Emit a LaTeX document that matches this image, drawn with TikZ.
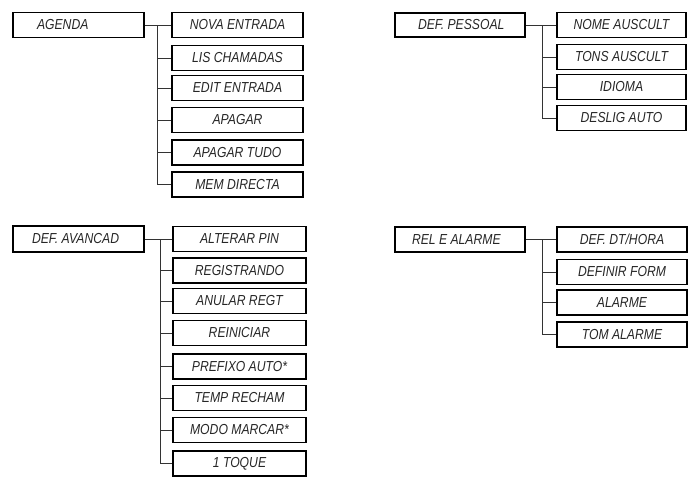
\documentclass[tikz,border=0pt]{standalone}
\usepackage{fontspec}
\newfontfamily\lcd[FakeStretch=0.84]{Liberation Sans}
\begin{document}
\begin{tikzpicture}[x=1pt,y=-1pt,
  box/.style={draw=black,line width=1.3pt,minimum height=25pt,inner sep=0pt,
    font=\lcd\itshape\fontsize{14.5}{15}\selectfont,text=black!85},
  rootbox/.style={box,minimum width=131pt},
  kid/.style={box,minimum width=131pt},
  conn/.style={draw=black!80,line width=1pt}]
\useasboundingbox (0,0) rectangle (691,485);
% AGENDA
\node[rootbox] (a0) at (78.5,25) {};
\node[anchor=west,box,draw=none] (a0t) at (a0.west) {\hspace{24pt}AGENDA};
\node[kid] (a1) at (237.5,25) {NOVA ENTRADA};
\node[kid] (a2) at (237.5,58) {LIS CHAMADAS};
\node[kid] (a3) at (237.5,88) {EDIT ENTRADA};
\node[kid] (a4) at (237.5,120) {APAGAR};
\node[kid] (a5) at (237.5,152.5) {APAGAR TUDO};
\node[kid] (a6) at (237.5,184.5) {MEM DIRECTA};
\coordinate (ta) at (157,25);
\draw[conn] (a0.east) -- (a1.west);
\draw[conn] (ta) |- (a6.west);
\foreach \k in {a2,a3,a4,a5} \draw[conn] (ta |- \k.west) -- (\k.west);
% DEF. PESSOAL
\node[rootbox,minimum width=130pt,minimum height=24pt] (p0) at (460,25) {};
\node[anchor=west,box,draw=none] (p0t) at (p0.west) {\hspace{23pt}DEF. PESSOAL};
\node[kid,minimum width=129pt] (p1) at (621.5,25) {NOME AUSCULT};
\node[kid,minimum width=129pt] (p2) at (621.5,57) {TONS AUSCULT};
\node[kid,minimum width=129pt] (p3) at (621.5,87) {IDIOMA};
\node[kid,minimum width=129pt] (p4) at (621.5,118) {DESLIG AUTO};
\coordinate (tp) at (542,25);
\draw[conn] (p0.east) -- (p1.west);
\draw[conn] (tp) |- (p4.west);
\foreach \k in {p2,p3} \draw[conn] (tp |- \k.west) -- (\k.west);
% DEF. AVANCAD
\node[rootbox,minimum height=26pt] (v0) at (78.5,239) {};
\node[anchor=west,box,draw=none] (v0t) at (v0.west) {\hspace{19pt}DEF. AVANCAD};
\node[kid,minimum width=133pt] (v1) at (239.5,239) {ALTERAR PIN};
\node[kid,minimum width=133pt] (v2) at (239.5,270.5) {REGISTRANDO};
\node[kid,minimum width=133pt] (v3) at (239.5,301) {ANULAR REGT};
\node[kid,minimum width=133pt] (v4) at (239.5,333) {REINICIAR};
\node[kid,minimum width=133pt] (v5) at (239.5,366.5) {PREFIXO AUTO*};
\node[kid,minimum width=133pt] (v6) at (239.5,398) {TEMP RECHAM};
\node[kid,minimum width=133pt] (v7) at (239.5,430) {MODO MARCAR*};
\node[kid,minimum width=133pt] (v8) at (239.5,463.5) {1 TOQUE};
\coordinate (tv) at (160,239);
\draw[conn] (v0.east) -- (v1.west);
\draw[conn] (tv) |- (v8.west);
\foreach \k in {v2,v3,v4,v5,v6,v7} \draw[conn] (tv |- \k.west) -- (\k.west);
% REL E ALARME
\node[rootbox,minimum width=130pt] (r0) at (460,239.5) {};
\node[anchor=west,box,draw=none] (r0t) at (r0.west) {\hspace{17pt}REL E ALARME};
\node[kid,minimum width=130pt] (r1) at (622,239.5) {DEF. DT/HORA};
\node[kid,minimum width=130pt] (r2) at (622,272) {DEFINIR FORM};
\node[kid,minimum width=130pt] (r3) at (622,302.5) {ALARME};
\node[kid,minimum width=130pt] (r4) at (622,334.5) {TOM ALARME};
\coordinate (tr) at (542,239.5);
\draw[conn] (r0.east) -- (r1.west);
\draw[conn] (tr) |- (r4.west);
\foreach \k in {r2,r3} \draw[conn] (tr |- \k.west) -- (\k.west);
\end{tikzpicture}
\end{document}
